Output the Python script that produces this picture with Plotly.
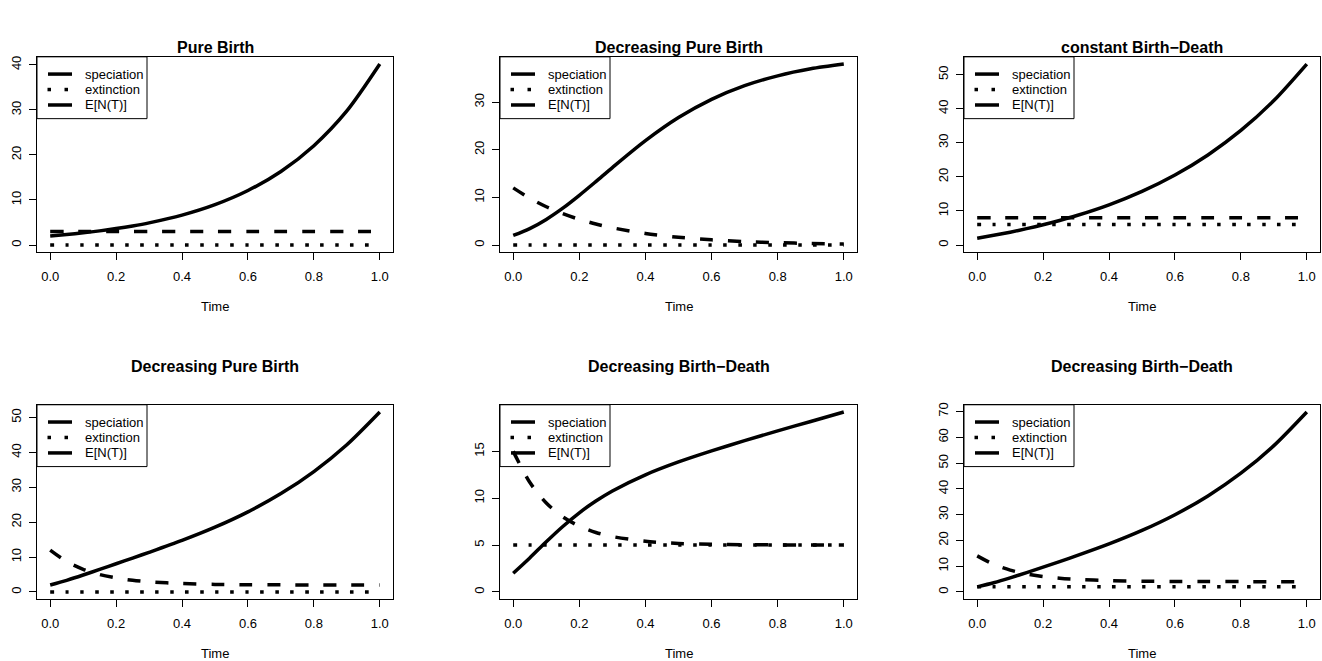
import plotly.graph_objects as go

# ---------------- data ----------------
t = [0, 0.05, 0.1, 0.15, 0.2, 0.25, 0.3, 0.4, 0.5, 0.6, 0.7, 0.8, 0.9, 1.0]

titles = ["Pure Birth", "Decreasing Pure Birth", "constant Birth\u2212Death",
          "Decreasing Pure Birth", "Decreasing Birth\u2212Death", "Decreasing Birth\u2212Death"]
legend_labels = ["speciation", "extinction", "E[N(T)]"]
x_label = "Time"

spec_1 = [3, 3, 3, 3, 3, 3, 3, 3, 3, 3, 3, 3, 3, 3]
ext_1 = [0, 0, 0, 0, 0, 0, 0, 0, 0, 0, 0, 0, 0, 0]
en_1 = [2.00, 2.32, 2.70, 3.14, 3.64, 4.23, 4.92, 6.64, 8.96, 12.10, 16.33, 22.05, 29.76, 40.17]

spec_2 = [12.0, 9.82, 8.04, 6.59, 5.39, 4.41, 3.61, 2.42, 1.62, 1.09, 0.73, 0.49, 0.33, 0.22]
ext_2 = [0, 0, 0, 0, 0, 0, 0, 0, 0, 0, 0, 0, 0, 0]
en_2 = [2.00, 3.45, 5.38, 7.74, 10.44, 13.32, 16.27, 21.92, 26.77, 30.60, 33.48, 35.55, 37.02, 38.02]

spec_3 = [8, 8, 8, 8, 8, 8, 8, 8, 8, 8, 8, 8, 8, 8]
ext_3 = [6, 6, 6, 6, 6, 6, 6, 6, 6, 6, 6, 6, 6, 6]
en_3 = [2.00, 2.84, 3.77, 4.80, 5.93, 7.19, 8.58, 11.80, 15.75, 20.56, 26.44, 33.62, 42.40, 53.11]

spec_4 = [12.0, 8.70, 6.49, 5.01, 4.02, 3.35, 2.91, 2.41, 2.18, 2.08, 2.04, 2.02, 2.01, 2.00]
ext_4 = [0, 0, 0, 0, 0, 0, 0, 0, 0, 0, 0, 0, 0, 0]
en_4 = [2.00, 3.34, 4.86, 6.47, 8.09, 9.72, 11.36, 14.76, 18.55, 22.94, 28.18, 34.50, 42.18, 51.56]

spec_5 = [15.0, 11.70, 9.49, 8.01, 7.02, 6.35, 5.91, 5.41, 5.18, 5.08, 5.04, 5.02, 5.01, 5.00]
ext_5 = [5, 5, 5, 5, 5, 5, 5, 5, 5, 5, 5, 5, 5, 5]
en_5 = [2.00, 3.63, 5.36, 6.99, 8.45, 9.70, 10.78, 12.50, 13.87, 15.05, 16.14, 17.19, 18.19, 19.20]

spec_6 = [14.0, 10.70, 8.49, 7.01, 6.02, 5.35, 4.91, 4.41, 4.18, 4.08, 4.04, 4.02, 4.01, 4.00]
ext_6 = [2, 2, 2, 2, 2, 2, 2, 2, 2, 2, 2, 2, 2, 2]
en_6 = [2.00, 3.60, 5.48, 7.52, 9.63, 11.78, 13.99, 18.64, 23.87, 29.97, 37.26, 46.07, 56.77, 69.83]

y_dticks = [10, 10, 10, 10, 5, 10]
x_ticks = [0.0, 0.2, 0.4, 0.6, 0.8, 1.0]

panels = [(spec_1, ext_1, en_1), (spec_2, ext_2, en_2), (spec_3, ext_3, en_3),
          (spec_4, ext_4, en_4), (spec_5, ext_5, en_5), (spec_6, ext_6, en_6)]

# ---------------- layout geometry (pixels) ----------------
W, H = 1322, 661
cols_px = [(37, 393), (500, 857), (964, 1320)]
rows_px = [(55, 251), (404, 599)]
title_y_px = [46, 366]
xlabel_y_px = [305, 653]

FONT = "Liberation Sans, Arial, Helvetica, sans-serif"
LW = 3.5
DASH = "13px,15px"
DOT = "3.5px,11.5px"

fig = go.Figure()
shapes = []
annotations = []

for i, (spec, ext, en) in enumerate(panels):
    r, c = divmod(i, 3)
    L, R = cols_px[c]
    T, B = rows_px[r]
    n = i + 1
    xa = "x" if n == 1 else f"x{n}"
    ya = "y" if n == 1 else f"y{n}"
    xkey = "xaxis" if n == 1 else f"xaxis{n}"
    ykey = "yaxis" if n == 1 else f"yaxis{n}"

    for vals, dash in ((en, "solid"), (spec, DASH), (ext, DOT)):
        fig.add_trace(go.Scatter(
            x=t, y=vals, mode="lines", xaxis=xa, yaxis=ya, showlegend=False,
            line=dict(color="black", width=LW, dash=dash, shape="spline", smoothing=0.8),
            hoverinfo="skip"))

    ymax = max(en)
    axis_common = dict(showline=True, mirror=True, linecolor="black", linewidth=1,
                       ticks="outside", ticklen=7, tickwidth=1, tickcolor="black",
                       showgrid=False, zeroline=False,
                       tickfont=dict(family=FONT, size=13, color="black"))
    fig.layout[xkey] = dict(axis_common, domain=[L / W, R / W], range=[-0.04, 1.04],
                            anchor=ya, tickvals=x_ticks, tickformat=".1f",
                            ticklabelstandoff=5)
    fig.layout[ykey] = dict(axis_common, domain=[1 - B / H, 1 - T / H],
                            range=[-0.04 * ymax, 1.04 * ymax], anchor=xa,
                            dtick=y_dticks[i], tick0=0, tickangle=-90,
                            ticklabelstandoff=3)

    # title and x label
    annotations.append(dict(text=f"<b>{titles[i]}</b>", x=(L + R) / 2 / W, y=1 - title_y_px[r] / H,
                            xref="paper", yref="paper", showarrow=False,
                            xanchor="center", yanchor="middle",
                            font=dict(family=FONT, size=16, color="black")))
    annotations.append(dict(text=x_label, x=(L + R) / 2 / W, y=1 - xlabel_y_px[r] / H,
                            xref="paper", yref="paper", showarrow=False,
                            xanchor="center", yanchor="middle",
                            font=dict(family=FONT, size=13, color="black")))

    # legend box (drawn manually, R style)
    def px(dx):
        return (L + dx) / W

    def py(dy):
        return 1 - (T + dy) / H

    shapes.append(dict(type="rect", xref="paper", yref="paper",
                       x0=px(0), x1=px(110), y0=py(0), y1=py(62),
                       line=dict(color="black", width=1), fillcolor="rgba(0,0,0,0)",
                       layer="above"))
    for k, lab in enumerate(legend_labels):
        dy = 17.3 + 15.5 * k
        if k == 1:
            for d0 in (10.5, 27.5):
                shapes.append(dict(type="line", xref="paper", yref="paper",
                                   x0=px(d0), x1=px(d0 + 3.5), y0=py(dy), y1=py(dy),
                                   line=dict(color="black", width=LW), layer="above"))
        else:
            shapes.append(dict(type="line", xref="paper", yref="paper",
                               x0=px(11), x1=px(35), y0=py(dy), y1=py(dy),
                               line=dict(color="black", width=LW), layer="above"))
        annotations.append(dict(text=lab, x=px(45.5), y=py(dy), xref="paper", yref="paper",
                                showarrow=False, xanchor="left", yanchor="middle",
                                font=dict(family=FONT, size=13, color="black")))

fig.update_layout(width=W, height=H, margin=dict(l=0, r=0, t=0, b=0),
                  paper_bgcolor="white", plot_bgcolor="white",
                  shapes=shapes, annotations=annotations, showlegend=False)

fig.write_html("out.html")
